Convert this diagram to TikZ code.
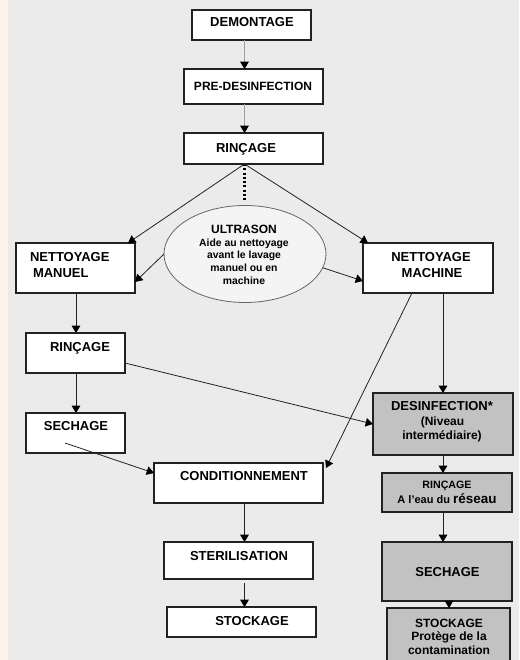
\documentclass[tikz,border=0pt]{standalone}
\usepackage{fontspec}
\setmainfont{Liberation Sans}
\usetikzlibrary{arrows.meta,calc,shapes.geometric}
\definecolor{bgc}{HTML}{EBEBEB}
\definecolor{stripc}{HTML}{FDF3EA}
\definecolor{grayfill}{HTML}{C2C2C2}
\definecolor{ellfill}{HTML}{F4F4F4}
\definecolor{linec}{HTML}{222222}
\newcommand{\myfs}[1]{\fontsize{#1}{#1}\selectfont}
\newcommand{\mybox}[6]{\node[#6, minimum width={(#4-#2)*0.75pt}, minimum height={(#5-#3)*0.75pt}] (#1) at ({(#2+#4)/2},{(#3+#5)/2}) {};}
\begin{document}
\begin{tikzpicture}[x=0.75pt,y=-0.75pt,
  wbox/.style={draw=linec,fill=white,line width=0.8pt,rectangle,inner sep=0pt,outer sep=0pt},
  gbox/.style={draw=linec,fill=grayfill,line width=0.8pt,rectangle,inner sep=0pt,outer sep=0pt},
  lbl/.style={inner sep=0pt,outer sep=0pt,anchor=base,text=black,font=\bfseries\myfs{9.75}},
  lbll/.style={lbl,anchor=base west},
  arr/.style={draw=linec,line width=0.6pt,-{Triangle[length=5.5pt,width=6.5pt,color=black]}},
  garr/.style={arr,draw=gray!75}
]
\fill[bgc] (0,0) rectangle (519,660);
\fill[stripc] (0,0) rectangle (8,660);
\useasboundingbox (0,0) rectangle (519,660);

% axes
\coordinate (axis) at (244.5,0);
\coordinate (axl) at (76,0);
\coordinate (axr) at (443,0);
\coordinate (axr2) at (449,0);

% boxes
\mybox{demo}{192}{10}{311}{40}{wbox}
\mybox{pre}{184}{69}{323}{104}{wbox}
\mybox{rin1}{184}{133}{323}{164}{wbox}
\mybox{manuel}{16}{243}{135}{293}{wbox}
\mybox{machine}{363}{243}{493}{293}{wbox}
\mybox{rin2}{26}{333}{125}{373}{wbox}
\mybox{sech1}{26}{413}{125}{453}{wbox}
\mybox{desinf}{373}{393}{513}{455}{gbox}
\mybox{cond}{154}{463}{323}{503}{wbox}
\mybox{rin3}{382}{473}{512}{512}{gbox}
\mybox{ster}{164}{542}{313}{579}{wbox}
\mybox{stock1}{167}{607}{316}{637}{wbox}
\mybox{sech2}{382}{542}{512}{601}{gbox,line width=1.3pt}
\mybox{stock2}{387}{608}{510}{664}{gbox}
\node[ellipse,draw=gray!80!black,fill=ellfill,line width=0.6pt,inner sep=0pt,outer sep=0pt,
  minimum width={162*0.75pt},minimum height={97*0.75pt}] (ultra) at (245,254) {};

% texts
\node[lbl] (demo-t) at (252,27) {DEMONTAGE};
\node[lbl,font=\bfseries\myfs{9}] (pre-t) at (253,90) {PRE-DESINFECTION};
\node[lbl] (rin1-t) at (246,152) {RINÇAGE};
\node[lbll] (manuel-t1) at (30,261) {NETTOYAGE};
\node[lbll] (manuel-t2) at (33,277) {MANUEL};
\node[lbl] (machine-t1) at (431,261) {NETTOYAGE};
\node[lbl] (machine-t2) at (432,277) {MACHINE};
\node[lbl,font=\bfseries\myfs{9}] (u1) at (244,233) {ULTRASON};
\node[lbl,font=\bfseries\myfs{7.8}] (u2) at (244,246) {Aide au nettoyage};
\node[lbl,font=\bfseries\myfs{7.8}] (u3) at (244,258.5) {avant le lavage};
\node[lbl,font=\bfseries\myfs{7.8}] (u4) at (244,271) {manuel ou en};
\node[lbl,font=\bfseries\myfs{7.8}] (u5) at (244,284) {machine};
\node[lbl] (rin2-t) at (80,351) {RINÇAGE};
\node[lbl] (sech1-t) at (76,430) {SECHAGE};
\node[lbl] (desinf-t1) at (442,410) {DESINFECTION*};
\node[lbl,font=\bfseries\myfs{9}] (desinf-t2) at (442.5,425) {(Niveau};
\node[lbl,font=\bfseries\myfs{9}] (desinf-t3) at (442,439) {intermédiaire)};
\node[lbl] (cond-t) at (244,480) {CONDITIONNEMENT};
\node[lbl,font=\bfseries\myfs{8}] (rin3-t1) at (447,488) {RINÇAGE};
\node[lbl,font=\bfseries\myfs{8.25}] (rin3-t2) at (447,503) {A l'eau du {\myfs{10.1}réseau}};
\node[lbl] (ster-t) at (239,560) {STERILISATION};
\node[lbl] (stock1-t) at (252,625) {STOCKAGE};
\node[lbl] (sech2-t) at (447.5,576) {SECHAGE};
\node[lbl,font=\bfseries\myfs{9}] (stock2-t1) at (449,627) {STOCKAGE};
\node[lbl,font=\bfseries\myfs{9}] (stock2-t2) at (449,640.5) {Protège de la};
\node[lbl,font=\bfseries\myfs{9}] (stock2-t3) at (449,654.5) {contamination};

% connectors
\coordinate (dotend) at (244.5,201);
\draw[garr] (demo.south -| axis) -- (pre.north -| axis);
\draw[garr] (pre.south -| axis) -- (rin1.north -| axis);
\draw[black,line width=1.6pt,dash pattern=on 1.6pt off 1.6pt] (rin1.south -| axis) -- (dotend);
\draw[arr] (rin1.south -| axis) -- ($(manuel.north east)+(-7,0)$);
\draw[arr] (rin1.south -| axis) -- ($(machine.north west)+(5,0)$);
\draw[arr] (ultra.west) -- ($(manuel.south east)+(0,-11)$);
\draw[arr] (ultra.-10) -- ($(machine.south west)+(0,-12)$);
\draw[arr] (manuel.south -| axl) -- (rin2.north -| axl);
\draw[arr] (rin2.south -| axl) -- (sech1.north -| axl);
\draw[arr] ($(rin2.east)+(0,10)$) -- (desinf.west);
\draw[arr] (machine.south -| axr) -- (desinf.north -| axr);
\draw[arr] ($(machine.south west)+(49,0)$) -- ($(cond.north east)+(3,5)$);
\draw[arr] ($(sech1.south west)+(39,-10)$) -- ($(cond.north west)+(0,10)$);
\draw[arr] (cond.south -| axis) -- (ster.north -| axis);
\draw[arr] ($(ster.south -| axis)+(0,4)$) -- (stock1.north -| axis);
\draw[arr] (desinf.south -| axr) -- (rin3.north -| axr);
\draw[arr] (rin3.south -| axr) -- (sech2.north -| axr);
\draw[arr] (sech2.south -| axr2) -- (stock2.north -| axr2);
\end{tikzpicture}
\end{document}
